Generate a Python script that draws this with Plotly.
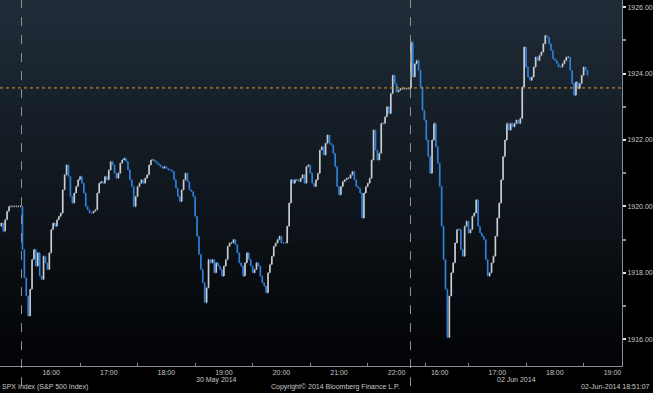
import pandas as pd
import plotly.graph_objects as go

# ---------------- data ----------------
# 2-minute bar closes of the SPX index, per trading session
session_dates = ["2014-05-29", "2014-05-30", "2014-06-02"]
session_first_bar = ["21:51", "15:30", "15:30"]

close_29may = [1919.4, 1919.5, 1919.25, 1919.6, 1919.85, 1920.0, 1920.0, 1920.0,
               1920.0, 1920.0, 1920.0, 1920.0]

close_30may = [
    1918.7, 1917.85, 1917.3, 1916.7, 1917.5, 1918.4, 1918.7, 1918.2, 1918.6, 1917.9,
    1917.8, 1918.5, 1918.3, 1918.1, 1918.6, 1919.3, 1919.5, 1919.4, 1919.6, 1919.7,
    1919.8, 1920.5, 1920.95, 1921.25, 1920.9, 1920.3, 1920.1, 1920.4, 1920.6, 1920.8,
    1920.9, 1920.7, 1920.4, 1920.0, 1919.9, 1919.8, 1919.8, 1919.85, 1919.9, 1920.4,
    1920.7, 1920.75, 1920.7, 1920.9, 1920.8, 1921.1, 1921.35, 1921.25, 1921.0, 1920.85,
    1921.0, 1921.3, 1921.4, 1921.45, 1921.35, 1921.1, 1920.8, 1920.6, 1920.0, 1920.3,
    1920.6, 1920.7, 1920.8, 1920.7, 1920.85, 1920.95, 1921.25, 1921.4, 1921.4, 1921.35,
    1921.3, 1921.25, 1921.2, 1921.15, 1921.2, 1921.15, 1921.1, 1921.1, 1921.05, 1920.8,
    1920.55, 1920.3, 1920.15, 1920.5, 1920.8, 1921.0, 1920.75, 1920.5, 1920.45, 1920.3,
    1919.7, 1919.1, 1918.55, 1918.1, 1917.7, 1917.1, 1917.55, 1918.4, 1918.3, 1918.4,
    1918.0, 1918.3, 1918.2, 1918.1, 1917.9, 1918.2, 1918.4, 1918.8, 1918.9, 1918.9,
    1919.0, 1918.85, 1918.6, 1918.3, 1918.2, 1917.9, 1918.3, 1918.6, 1918.4, 1918.2,
    1918.0, 1918.1, 1918.3, 1918.2, 1917.9, 1917.7, 1917.6, 1917.4, 1918.0, 1918.25,
    1918.5, 1918.8, 1918.9, 1919.0, 1919.1, 1918.9, 1918.9, 1918.9, 1919.4, 1920.1,
    1920.8, 1920.7, 1920.8, 1920.8, 1920.75, 1920.85, 1920.95, 1920.7, 1921.2, 1921.25,
    1921.0, 1920.7, 1920.6, 1920.8, 1921.0, 1921.7, 1921.8, 1921.55, 1921.9, 1922.15,
    1921.9, 1921.85, 1921.6, 1921.2, 1920.6, 1920.35, 1920.6, 1920.75, 1920.8, 1920.85,
    1920.85, 1920.95, 1921.05, 1920.8, 1920.6, 1920.55, 1920.4, 1919.65, 1920.4, 1920.6,
    1920.7, 1920.85, 1921.4, 1922.3, 1921.7, 1921.4, 1921.6, 1922.5, 1922.5, 1922.7,
    1923.0, 1922.8, 1923.4, 1923.95, 1923.7, 1923.45, 1923.5, 1923.55, 1923.55, 1923.55,
    1923.55, 1923.55, 1923.55,
]

close_02jun = [
    1924.95, 1923.9, 1924.3, 1924.4, 1924.1, 1923.6, 1922.9, 1922.6, 1922.0, 1921.5,
    1921.0, 1922.0, 1922.5, 1921.8, 1921.3, 1920.6, 1919.4, 1918.4, 1917.5, 1916.05,
    1917.3, 1918.0, 1918.3, 1918.9, 1919.3, 1919.3, 1918.7, 1918.5, 1919.4, 1919.55,
    1919.2, 1919.3, 1919.7, 1919.8, 1920.2, 1919.4, 1919.2, 1919.1, 1919.0, 1918.4,
    1917.9, 1918.0, 1918.3, 1918.5, 1919.1, 1919.65, 1920.1, 1920.8, 1921.5, 1922.0,
    1922.5, 1922.3, 1922.5, 1922.4, 1922.5, 1922.6, 1922.5, 1922.65, 1923.6, 1924.8,
    1924.2, 1923.9, 1923.8, 1923.9, 1924.2, 1924.5, 1924.4, 1924.55, 1924.65, 1924.9,
    1925.15, 1925.1, 1924.9, 1924.7, 1924.45, 1924.4, 1924.3, 1924.2, 1924.2, 1924.3,
    1924.4, 1924.5, 1924.5, 1924.1, 1923.7, 1923.35, 1923.75, 1923.55, 1923.7, 1923.95,
    1924.2, 1924.1, 1923.95,
]

reference_level = 1923.57          # orange dotted line
y_tick_values = [1916, 1918, 1920, 1922, 1924, 1926]
y_tick_labels = ["1916.00", "1918.00", "1920.00", "1922.00", "1924.00", "1926.00"]
hour_labels_30may = ["16:00", "17:00", "18:00", "19:00", "20:00", "21:00", "22:00"]
hour_labels_02jun = ["16:00", "17:00", "18:00", "19:00"]
date_labels = ["30 May 2014", "02 Jun 2014"]

# ---------------- trading-time axis (sessions 15:30-22:15 placed side by side) -------
SESSION_LEN = 405  # minutes per session slot
session_offsets = [-SESSION_LEN, 0, SESSION_LEN]
closes_by_session = [close_29may, close_30may, close_02jun]


def session_pos(date, hhmm, offset):
    t = pd.Timestamp(f"{date} {hhmm}")
    start = pd.Timestamp(f"{date} 15:30")
    return offset + (t - start) / pd.Timedelta(minutes=1)


xs, closes = [], []
for d, first, off, vals in zip(session_dates, session_first_bar, session_offsets, closes_by_session):
    times = pd.date_range(pd.Timestamp(f"{d} {first}"), periods=len(vals), freq="2min")
    start = pd.Timestamp(f"{d} 15:30")
    xs += [off + (t - start) / pd.Timedelta(minutes=1) for t in times]
    closes += vals

opens = [closes[0]] + closes[:-1]
highs = [max(o, c) for o, c in zip(opens, closes)]
lows = [min(o, c) for o, c in zip(opens, closes)]

BLUE = "#2f80dc"
WHITE = "#c9cdd2"
TXT = "#c8c8c8"
FS = 7

fig = go.Figure()
fig.add_trace(go.Ohlc(
    x=xs, open=opens, high=highs, low=lows, close=closes,
    increasing=dict(line=dict(color=WHITE, width=1.7)),
    decreasing=dict(line=dict(color=BLUE, width=1.7)),
    tickwidth=0.5, hoverinfo="skip", showlegend=False,
))

# x ticks
tickvals = [session_pos("2014-05-30", h, 0) for h in hour_labels_30may] + \
           [session_pos("2014-06-02", h, SESSION_LEN) for h in hour_labels_02jun]
ticktext = hour_labels_30may + hour_labels_02jun
minor_vals = [v + 30 for v in tickvals if (v + 30) != SESSION_LEN and v + 30 < 625]

shapes = []
# background gradient of the plot area (overlapping bands to avoid seams)
n_bands = 60
top = (31, 44, 56)
bot = (2, 3, 5)
for i in range(n_bands):
    f = i / (n_bands - 1)
    c = tuple(int(round(top[j] + (bot[j] - top[j]) * f)) for j in range(3))
    shapes.append(dict(type="rect", xref="paper", yref="paper",
                       x0=0, x1=1, y0=max(0, 1 - (i + 1) / n_bands - 0.01), y1=1 - i / n_bands,
                       fillcolor=f"rgb{c}", line=dict(width=0), layer="below"))

# session separators
for sep in [-1, SESSION_LEN - 0.5]:
    shapes.append(dict(type="line", xref="x", yref="paper", x0=sep, x1=sep, y0=-0.055, y1=1,
                       line=dict(color="#8e9296", width=1, dash="dash"), layer="above"))

# orange reference level
shapes.append(dict(type="line", xref="paper", yref="y", x0=0, x1=1,
                   y0=reference_level, y1=reference_level,
                   line=dict(color="#e0961e", width=1, dash="dot"), layer="above"))

annotations = []
day_centres = [SESSION_LEN / 2, SESSION_LEN + (625 - SESSION_LEN) / 2]
for lbl, cx in zip(date_labels, day_centres):
    annotations.append(dict(x=cx, xref="x", y=-0.038, yref="paper", text=lbl, showarrow=False,
                            font=dict(size=FS, color=TXT), yanchor="middle"))
annotations.append(dict(x=0.0, xref="paper", y=-0.057, yref="paper",
                        text="SPX Index (S&P 500 Index)", showarrow=False,
                        xanchor="left", yanchor="middle", font=dict(size=FS, color=TXT)))
annotations.append(dict(x=0.539, xref="paper", y=-0.057, yref="paper",
                        text="Copyright© 2014 Bloomberg Finance L.P.", showarrow=False,
                        xanchor="center", yanchor="middle", font=dict(size=FS, color=TXT)))
annotations.append(dict(x=1.048, xref="paper", y=-0.057, yref="paper",
                        text="02-Jun-2014 18:51:07", showarrow=False,
                        xanchor="right", yanchor="middle", font=dict(size=FS, color=TXT)))

fig.update_layout(
    width=653, height=393,
    margin=dict(l=0, r=31, t=0, b=27, pad=0),
    paper_bgcolor="#000000", plot_bgcolor="rgba(0,0,0,0)",
    font=dict(family="Liberation Sans, Arial, sans-serif", size=FS, color=TXT),
    shapes=shapes, annotations=annotations,
    xaxis=dict(type="linear", range=[-23.4, 625], rangeslider=dict(visible=False),
               automargin=False,
               tickmode="array", tickvals=tickvals, ticktext=ticktext,
               ticks="", showgrid=False, zeroline=False,
               showline=True, linecolor="#8a8e92", linewidth=1,
               tickfont=dict(size=FS, color=TXT),
               minor=dict(tickmode="array", tickvals=minor_vals, ticks="inside",
                          ticklen=3, tickcolor="#8a8e92", showgrid=False)),
    yaxis=dict(side="right", range=[1915.19, 1926.22], automargin=False,
               tickmode="array", tickvals=y_tick_values, ticktext=y_tick_labels,
               ticks="outside", ticklen=3, tickwidth=2, tickcolor="#e0e0e0",
               showgrid=False, zeroline=False,
               showline=True, linecolor="#8a8e92", linewidth=1,
               tickfont=dict(size=FS, color=TXT),
               minor=dict(tickmode="array", tickvals=[1915, 1917, 1919, 1921, 1923, 1925],
                          ticks="outside", ticklen=3, tickcolor="#8a8e92")),
)

fig.write_html("out.html",
               config={"displayModeBar": False},
               post_script="document.body.style.margin='0';"
                           "document.body.style.background='#000';")
